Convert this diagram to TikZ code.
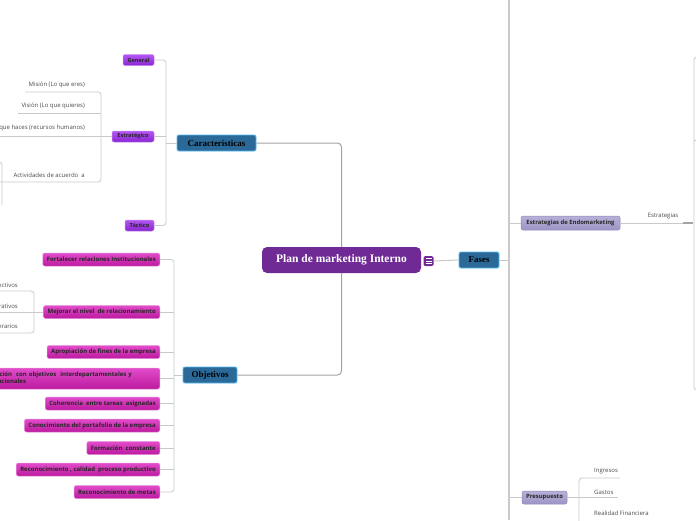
\documentclass[tikz,border=0pt]{standalone}
\usepackage{fontspec}
\setmainfont{Liberation Serif}
\newfontfamily\labf{Open Sans}
\definecolor{planC}{HTML}{6F2A96}
\definecolor{blueC}{HTML}{2B6A98}
\definecolor{blueB}{HTML}{55B8EC}
\definecolor{purT}{HTML}{B456F2}
\definecolor{purB}{HTML}{8A26D2}
\definecolor{purE}{HTML}{C58BF2}
\definecolor{magT}{HTML}{E24CCB}
\definecolor{magB}{HTML}{BC1A9E}
\definecolor{magE}{HTML}{E58AD6}
\definecolor{lavT}{HTML}{B7B1D8}
\definecolor{lavB}{HTML}{9C95C6}
\definecolor{lavE}{HTML}{8D86BA}
\definecolor{lineC}{HTML}{C9C9C9}
\definecolor{mainL}{HTML}{A3A3A3}
\definecolor{txtC}{HTML}{4A4A4A}
\tikzset{
  planbox/.style={fill=planC, rounded corners=5pt, text=white, font=\bfseries\fontsize{11.5}{12}\selectfont, minimum width=159pt, minimum height=26pt, inner sep=0pt},
  menubox/.style={fill=planC, rounded corners=1.5pt, minimum width=10pt, minimum height=10pt, inner sep=0pt},
  bluebox/.style={fill=blueC, draw=blueB, line width=0.9pt, rounded corners=2pt, text=black, font=\bfseries\fontsize{9}{9}\selectfont, minimum height=16pt, inner sep=0pt},
  purbox/.style={top color=purT, bottom color=purB, draw=purE, line width=0.5pt, rounded corners=2pt, text=black!85, font=\labf\bfseries\fontsize{5.6}{6}\selectfont, minimum height=11pt, inner sep=0pt},
  magbox/.style={top color=magT, bottom color=magB, draw=magE, line width=0.5pt, rounded corners=2pt, text=black!85, font=\labf\bfseries\fontsize{6}{7.5}\selectfont, minimum height=13pt, inner ysep=0pt, inner xsep=4pt, anchor=east},
  lavbox/.style={top color=lavT, bottom color=lavB, draw=lavE, line width=0.5pt, rounded corners=2pt, text=black!85, font=\labf\bfseries\fontsize{5.9}{6}\selectfont, minimum height=14pt, inner sep=0pt},
  lab/.style={text=txtC, font=\labf\fontsize{6}{6}\selectfont, inner sep=0pt},
  conn/.style={draw=lineC, line width=0.8pt, rounded corners=3pt},
  mainconn/.style={draw=mainL, line width=1pt, rounded corners=4pt}
}
\begin{document}
\begin{tikzpicture}[x=1pt,y=-1pt]
\useasboundingbox (0,0) rectangle (696,520);
% central
\node[planbox] (plan) at (341.5,260) {Plan de marketing Interno};
\node[menubox] (menu) at (428.5,261) {};
\foreach \d in {-2.5,0,2.5}{\draw[white, line width=0.7pt] ([xshift=-3pt,yshift=\d pt]menu.center) -- ++(6,0);}
% main branches
\node[bluebox, minimum width=79pt] (car) at (216.5,143) {Caracteristicas};
\node[bluebox, minimum width=54pt] (obj) at (210,375) {Objetivos};
\node[bluebox, minimum width=40pt] (fas) at (479,260) {Fases};
\draw[mainconn] (car.east) -| (plan.north);
\draw[mainconn] (plan.south) |- (obj.east);
\draw[draw=lineC, line width=1pt] (menu.east) -- (fas.west);
% right spine
\coordinate (vtop) at (509,0);
\coordinate (vbot) at (509,520);
\draw[draw=lineC, line width=1.5pt] (vtop) -- (vbot);
\draw[draw=lineC, line width=1pt] (fas.east) -- (fas.east -| vtop);
% Caracteristicas children
\node[purbox, minimum width=31pt] (gen) at (138.5,60) {General};
\node[purbox, minimum width=42pt] (est) at (133,136.5) {Estratégico};
\node[purbox, minimum width=29pt] (tac) at (139.5,225.5) {Táctico};
\coordinate (cb) at (166,143);
\draw[conn] (gen.east) -- (gen.east -| cb) -- (tac.east -| cb) -- (tac.east);
\draw[conn] (car.west) -- (cb);
\draw[conn] (est.east) -- (est.east -| cb);
% Estrategico children
\coordinate (eb) at (101,136.5);
\node[lab, anchor=south east] (mis) at (85,88) {Misión (Lo que eres)};
\node[lab, anchor=south east] (vis) at (85,109) {Visión (Lo que quieres)};
\node[lab, anchor=south east] (hac) at (85,131) {Lo que haces (recursos humanos)};
\node[lab, anchor=south east] (act) at (85,178) {Actividades de acuerdo\ \ a};
\coordinate (misL) at (25,92);
\coordinate (visL) at (18,113);
\coordinate (hacL) at (-5,136.5);
\coordinate (actL) at (-5,182);
\draw[conn] (misL) -- (misL -| eb) -- (actL -| eb) -- (actL);
\draw[conn] (visL) -- (visL -| eb);
\draw[conn] (hacL) -- (est.west);
\coordinate (ab1) at (-5,162);
\coordinate (ab2) at (2,205);
\draw[conn] (ab1) -| (ab2);
% Objetivos children
\node[magbox] (fort) at (160,259.5) {Fortalecer relaciones Institucionales};
\node[magbox] (mej) at (160,312) {Mejorar el nivel\ \ de relacionamiento};
\node[magbox] (apr) at (160,352) {Apropiación de fines de la empresa};
\node[magbox, text width=180pt, align=left, minimum height=21pt] (art) at (160,378.5) {Articulación\ \ con objetivos\ \ interdepartamentales y\\organizacionales};
\node[magbox] (coh) at (160,403.5) {Coherencia\ \ entre tareas\ \ asignadas};
\node[magbox] (cono) at (160,425.5) {Conocimiento del portafolio de la empresa};
\node[magbox] (form) at (160,448) {Formación\ \ constante};
\node[magbox] (rcp) at (160,469.5) {Reconocimiento , calidad\ \ proceso productivo};
\node[magbox] (rm) at (160,492) {Reconocimiento de metas};
\coordinate (ob) at (174,375);
\draw[conn] (fort.east) -- (fort.east -| ob) -- (rm.east -| ob) -- (rm.east);
\draw[conn] (obj.west) -- (ob);
\foreach \n in {mej,apr,art,coh,cono,form,rcp}{\draw[conn] (\n.east) -- (\n.east -| ob);}
% Mejorar children
\coordinate (mb) at (34,312);
\node[lab, anchor=south east] (dir) at (18,287.5) {Directivos};
\node[lab, anchor=south east] (adm) at (18,308.5) {Administrativos};
\node[lab, anchor=south east] (ope) at (18,330) {Operarios};
\coordinate (m1) at (-5,291);
\coordinate (m3) at (-5,333);
\draw[conn] (m1) -- (m1 -| mb) -- (m3 -| mb) -- (m3);
\draw[conn] (mej.west) -- (mej.west -| m1);
% Fases children
\node[lavbox, minimum width=99pt] (endo) at (570.5,223) {Estrategias de Endomarketing};
\node[lavbox, minimum width=45pt, minimum height=13pt] (pres) at (544.5,497.5) {Presupuesto};
\draw[conn] (endo.west -| vtop) -- (endo.west);
\draw[conn] (pres.west -| vtop) -- (pres.west);
\coordinate (eR) at (693,223);
\coordinate (eR2) at (683,223);
\node[lab, anchor=south] (estr) at (663,219.5) {Estrategias};
\draw[conn] (endo.east) -- (eR2);
\draw[draw=mainL, line width=1.5pt] (eR2) -- (eR);
\coordinate (rb1) at (700,57);
\coordinate (rb2) at (694,390);
\coordinate (rb3) at (700,390);
\coordinate (rbm) at (700,140);
\draw[conn] (rb1) -- (rb1 -| rb2) -- (rb2) -- (rb3);
\draw[conn] (rbm -| rb2) -- (rbm);
% Presupuesto children
\coordinate (pb) at (579,497.5);
\node[lab, anchor=south west] (ing) at (594,474) {Ingresos};
\node[lab, anchor=south west] (gas) at (594,494.5) {Gastos};
\node[lab, anchor=south west] (real) at (594,515.5) {Realidad Financiera};
\coordinate (p1) at (620,478);
\coordinate (p3) at (579,528);
\draw[conn] (p1) -- (p1 -| pb) -- (p3);
\draw[conn] (pres.east) -- (618,497.5);
\end{tikzpicture}
\end{document}
